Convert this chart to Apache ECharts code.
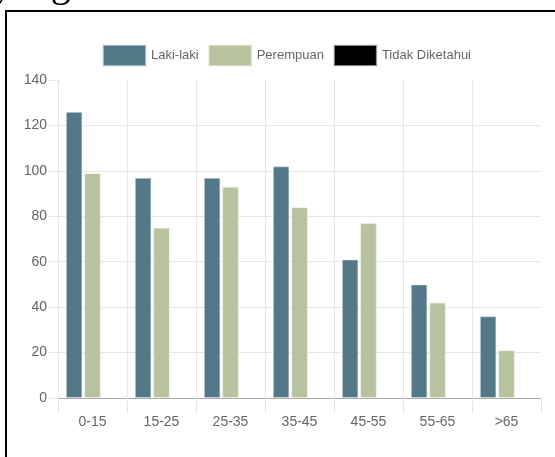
<!DOCTYPE html>
<html>
<head>
<meta charset="utf-8">
<script src="https://cdn.jsdelivr.net/npm/echarts@6/dist/echarts.min.js"></script>
<style>
html,body{margin:0;padding:0;background:#fff;}
#chart{width:555px;height:457px;}
</style>
</head>
<body>
<div id="chart"></div>
<script>
var categories = ['0-15', '15-25', '25-35', '35-45', '45-55', '55-65', '>65'];
var lakiLaki = [126, 97, 97, 102, 61, 50, 36];
var perempuan = [99, 75, 93, 84, 77, 42, 21];
var tidakDiketahui = [null, null, null, null, null, null, null];
var yTicks = [0, 20, 40, 60, 80, 100, 120, 140];

var FONT = "'Liberation Sans Narrow', 'Arial Narrow', 'Liberation Sans', Arial, sans-serif";
var chart = echarts.init(document.getElementById('chart'), null, {renderer: 'canvas'});
chart.setOption({
  animation: false,
  backgroundColor: '#fff',
  textStyle: {fontFamily: FONT},
  graphic: [
    {type: 'text', left: -7, top: -35, silent: true,
     style: {text: 'yang', font: "40px 'Liberation Serif', 'Times New Roman', serif", fill: '#000'}},
    {type: 'line', silent: true, shape: {x1: 5, y1: 11, x2: 555, y2: 11}, style: {stroke: '#000', lineWidth: 2}},
    {type: 'line', silent: true, shape: {x1: 6, y1: 10, x2: 6, y2: 457}, style: {stroke: '#000', lineWidth: 2}}
  ],
  legend: {
    left: 97, top: 39,
    itemWidth: 43, itemHeight: 21, itemGap: 9,
    icon: 'rect',
    textStyle: {color: '#666', fontSize: 13, fontFamily: FONT},
    data: ['Laki-laki', 'Perempuan', 'Tidak Diketahui']
  },
  grid: {left: 58, right: 14, top: 80, bottom: 59, containLabel: false},
  xAxis: {
    type: 'category',
    data: categories,
    boundaryGap: true,
    axisLine: {show: true, lineStyle: {color: '#aaaaaa', width: 1}},
    axisTick: {show: true, length: 15, alignWithLabel: false, lineStyle: {color: '#e6e6e6'}},
    splitLine: {show: true, showMaxLine: false, lineStyle: {color: '#e6e6e6', width: 1}},
    axisLabel: {color: '#666', fontSize: 14, margin: 17, fontFamily: FONT}
  },
  yAxis: {
    type: 'value',
    min: yTicks[0], max: yTicks[yTicks.length - 1], interval: 20,
    axisLine: {show: true, lineStyle: {color: '#e6e6e6'}},
    axisTick: {show: true, length: 9, lineStyle: {color: '#e6e6e6'}},
    splitLine: {show: true, showMaxLine: false, lineStyle: {color: '#e6e6e6', width: 1}},
    axisLabel: {color: '#666', fontSize: 14, margin: 11, fontFamily: FONT}
  },
  series: [
    {name: 'Laki-laki', type: 'bar', data: lakiLaki, barWidth: 16.6, barGap: '10.8%',
     itemStyle: {color: '#537887', borderColor: 'rgba(225,235,240,0.55)', borderWidth: 1}},
    {name: 'Perempuan', type: 'bar', data: perempuan, barWidth: 16.6, barGap: '10.8%',
     itemStyle: {color: '#b7c29e', borderColor: 'rgba(240,245,230,0.55)', borderWidth: 1}},
    {name: 'Tidak Diketahui', type: 'bar', data: tidakDiketahui, barWidth: 16.6, barGap: '10.8%',
     itemStyle: {color: '#000000', borderColor: 'rgba(230,230,230,0.6)', borderWidth: 1}}
  ]
});
</script>
</body>
</html>
